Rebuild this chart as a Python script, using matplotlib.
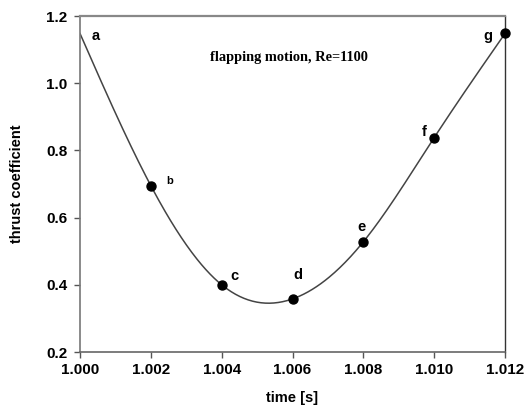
import matplotlib
matplotlib.use("Agg")
import matplotlib.pyplot as plt
import numpy as np

# thrust coefficient at the sampled instants a..g
labels = ["a", "b", "c", "d", "e", "f", "g"]
time = [1.000, 1.002, 1.004, 1.006, 1.008, 1.010, 1.012]
thrust = [1.148, 0.695, 0.400, 0.358, 0.528, 0.838, 1.148]
marked = [False, True, True, True, True, True, True]

x_ticks = [1.000, 1.002, 1.004, 1.006, 1.008, 1.010, 1.012]
y_ticks = [0.2, 0.4, 0.6, 0.8, 1.0, 1.2]


def natural_spline(x, y, xs):
    # natural cubic spline through the sampled points, for a smooth line
    x = np.asarray(x, float)
    y = np.asarray(y, float)
    n = len(x)
    h = np.diff(x)
    A = np.zeros((n, n))
    r = np.zeros(n)
    A[0, 0] = A[-1, -1] = 1
    for i in range(1, n - 1):
        A[i, i - 1] = h[i - 1]
        A[i, i] = 2 * (h[i - 1] + h[i])
        A[i, i + 1] = h[i]
        r[i] = 6 * ((y[i + 1] - y[i]) / h[i] - (y[i] - y[i - 1]) / h[i - 1])
    m = np.linalg.solve(A, r)
    k = np.clip(np.searchsorted(x, xs) - 1, 0, n - 2)
    t0 = x[k + 1] - xs
    t1 = xs - x[k]
    hk = h[k]
    return (m[k] * t0 ** 3 / (6 * hk) + m[k + 1] * t1 ** 3 / (6 * hk)
            + (y[k] / hk - m[k] * hk / 6) * t0
            + (y[k + 1] / hk - m[k + 1] * hk / 6) * t1)


fig = plt.figure(figsize=(5.26, 4.15), dpi=100)
ax = fig.add_axes([0.1521, 0.1518, 0.808, 0.8096])

xs = np.linspace(time[0], time[-1], 400)
ax.plot(xs, natural_spline(time, thrust, xs), color="#444444", lw=1.1, zorder=2)

mx = [t for t, m in zip(time, marked) if m]
my = [c for c, m in zip(thrust, marked) if m]
ax.scatter(mx, my, s=42, color="black", zorder=3, clip_on=False)

# point labels, offset in pixels from each sample
offsets = {"a": (16, -3), "b": (19, 5), "c": (13, 9), "d": (5, 24),
           "e": (-2, 15), "f": (-10, 6), "g": (-17, -3)}
for lab, t, c in zip(labels, time, thrust):
    ax.annotate(lab, (t, c), xytext=offsets[lab], textcoords="offset pixels",
                ha="center", va="center", fontweight="bold",
                fontsize=8 if lab == "b" else 10.5, family="Liberation Sans")

ax.text(0.4915, 0.877, "flapping motion, Re=1100", transform=ax.transAxes,
        ha="center", va="center", fontsize=10.4, fontweight="bold",
        family="Liberation Serif")

ax.set_xlim(1.000, 1.012)
ax.set_ylim(0.2, 1.2)
ax.set_xticks(x_ticks)
ax.set_yticks(y_ticks)
ax.set_xticklabels([f"{v:.3f}" for v in x_ticks])
ax.set_yticklabels([f"{v:.1f}" for v in y_ticks])
for lbl in ax.get_xticklabels() + ax.get_yticklabels():
    lbl.set_fontweight("bold")
    lbl.set_family("Liberation Sans")
    lbl.set_fontsize(11)
ax.tick_params(axis="x", direction="out", length=4, width=1, color="#555555", pad=4)
ax.tick_params(axis="y", direction="out", length=4, width=1, color="#555555", pad=5)

ax.set_xlabel("time [s]", fontsize=10.5, fontweight="bold",
              family="Liberation Sans", labelpad=10)
ax.set_ylabel("thrust coefficient", fontsize=10.5, fontweight="bold",
              family="Liberation Sans", labelpad=16)

ax.spines["top"].set_color("#888888")
ax.spines["top"].set_linewidth(1.6)
ax.spines["left"].set_color("#777777")
ax.spines["left"].set_linewidth(1.2)
ax.spines["bottom"].set_color("#666666")
ax.spines["bottom"].set_linewidth(1.2)
ax.spines["right"].set_color("#333333")
ax.spines["right"].set_linewidth(1.0)

fig.savefig("out.png", dpi=100)
